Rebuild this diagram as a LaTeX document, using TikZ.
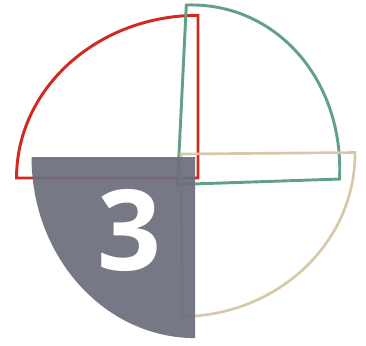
\documentclass[tikz,border=0pt]{standalone}
\usepackage{fontspec}
\setmainfont{Open Sans}
\usepackage{xcolor}
\usetikzlibrary{positioning}

\definecolor{qred}{RGB}{210,40,30}
\definecolor{qgreen}{RGB}{100,160,136}
\definecolor{qsand}{RGB}{216,200,170}
\definecolor{qslate}{RGB}{108,110,124}

\begin{document}
\begin{tikzpicture}[x=0.75pt, y=-0.75pt,
  rim/.style={line width=2.2pt, line join=miter, fill=none},
  piece/.style={fill=qslate, fill opacity=0.93, draw=none},
  digit/.style={text=white, inner sep=0pt,
                font=\fontsize{84}{84}\selectfont\bfseries}]
\useasboundingbox (0,0) rectangle (366,345);
% red quarter, top left
\begin{scope}[shift={(198,178)}, x={(-136.1pt,0pt)}, y={(0pt,122pt)}]
  \draw[rim, draw=qred] (0,0) -- (1,0) arc[start angle=0, end angle=90, radius=1] -- cycle;
\end{scope}
% green quarter, tilted
\begin{scope}[shift={(177.5,184.5)}, x={(121.5pt,4.1pt)}, y={(6.6pt,134.6pt)}]
  \draw[rim, draw=qgreen] (0,0) -- (1,0) arc[start angle=0, end angle=90, radius=1] -- cycle;
\end{scope}
% sand quarter, bottom right
\begin{scope}[shift={(181,154)}, x={(130.5pt,1.1pt)}, y={(0.75pt,-121.9pt)}]
  \draw[rim, draw=qsand, line width=2pt] (0,0) -- (1,0) arc[start angle=0, end angle=90, radius=1] -- cycle;
\end{scope}
% slate quarter, bottom left
\begin{scope}[shift={(195,157)}, x={(-122.6pt,0pt)}, y={(0pt,-135.8pt)}]
  \fill[piece] (0,0) -- (1,0) arc[start angle=0, end angle=90, radius=1] -- cycle;
\end{scope}
\node[digit] (num) at (129,230.5) {3};
\end{tikzpicture}
\end{document}
